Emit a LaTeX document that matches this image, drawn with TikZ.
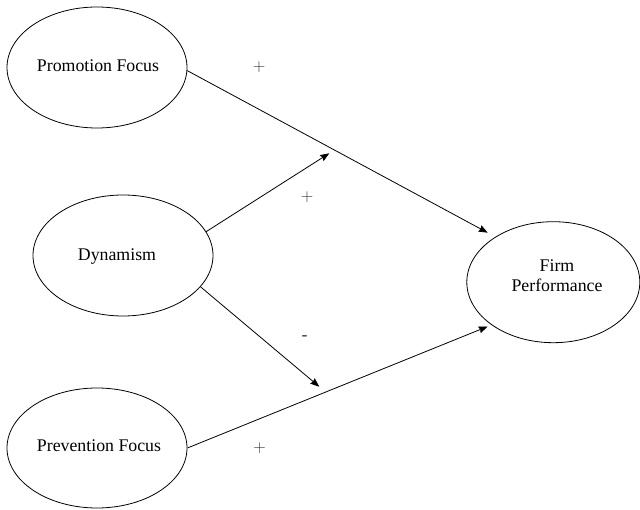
\documentclass[tikz,border=0pt]{standalone}
\usepackage{fontspec}
\setmainfont{Liberation Serif}
\usetikzlibrary{shapes.geometric,arrows.meta}
\tikzset{
  construct/.style={draw=black, line width=0.8pt, ellipse, inner sep=0pt},
  lbl/.style={inner sep=0pt, outer sep=0pt, anchor=base, font=\fontsize{17.8}{20.3}\selectfont},
  sign/.style={inner sep=0pt, outer sep=0pt, anchor=center, font=\fontsize{18}{20.3}\selectfont, text=black!80},
  path/.style={draw=black, line width=0.8pt, -{Stealth[length=9pt,width=7pt,inset=1pt]}}
}
\begin{document}
\begin{tikzpicture}[x=1pt,y=-1pt]
\useasboundingbox (0,0) rectangle (640,510);
% ellipses
\node[construct, minimum width=180pt, minimum height=121pt] (promo) at (97,67.5) {};
\node[construct, minimum width=180pt, minimum height=121pt] (dyn) at (123,255.5) {};
\node[construct, minimum width=180pt, minimum height=120pt] (prev) at (97,448) {};
\node[construct, minimum width=173pt, minimum height=121pt] (firm) at (553.3,282.2) {};
% texts
\node[lbl] (promoT) at (98,71.7) {Promotion Focus};
\node[lbl] (dynT) at (117,261) {Dynamism};
\node[lbl] (prevT) at (99,451) {Prevention Focus};
\node[inner sep=0pt, align=center, font=\fontsize{17.8}{20.3}\selectfont] (firmT) at (557,275.8) {Firm\\Performance};
% arrow end points
\coordinate (tipPromo) at (487.7,232.7);
\coordinate (tipPrev) at (487.7,326.5);
\coordinate (tipDynUp) at (329.3,153.3);
\coordinate (tipDynDown) at (319.3,386.7);
% connectors
\draw[path] (promo.-2) -- (tipPromo);
\draw[path] (prev.0) -- (tipPrev);
\draw[path] (dyn.16) -- (tipDynUp);
\draw[path] (dyn.-22) -- (tipDynDown);
% signs
\node[sign] (s1) at (259,67.3) {$+$};
\node[sign] (s2) at (307,197.5) {$+$};
\node[sign, anchor=base, font=\fontsize{17.8}{20.3}\selectfont] (s3) at (304.5,340.8) {-};
\node[sign] (s4) at (259.5,448.3) {$+$};
\end{tikzpicture}
\end{document}
